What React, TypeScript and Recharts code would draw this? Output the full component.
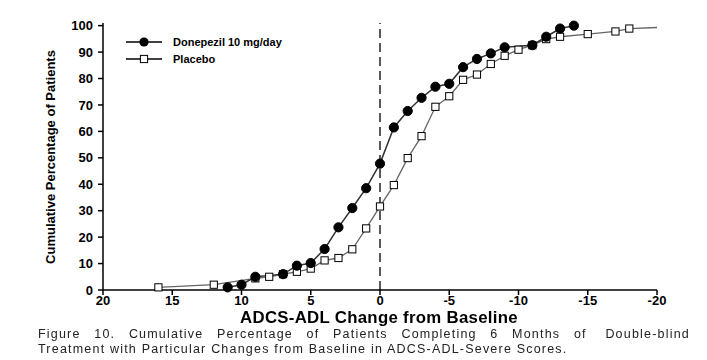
import React from 'react';
import { LineChart, Line, XAxis, YAxis, ReferenceLine } from 'recharts';

// cumulative % of patients by ADCS-ADL change (x axis runs 20 -> -20)
const donepezilX = [11, 10, 9, 7, 6, 5, 4, 3, 2, 1, 0, -1, -2, -3, -4, -5, -6, -7, -8, -9, -11, -12, -13, -14];
const donepezilY = [1, 2, 5, 6, 9.2, 10.2, 15.5, 23.7, 31, 38.5, 47.8, 61.5, 67.7, 72.7, 76.9, 78, 84.3, 87.4, 89.5, 91.8, 92.6, 95.8, 98.9, 100];

const placeboX = [16, 12, 9, 8, 7, 6, 5, 4, 3, 2, 1, 0, -1, -2, -3, -4, -5, -6, -7, -8, -9, -10, -11, -12, -13, -15, -17, -18, -20];
const placeboY = [1, 2, 4.4, 5, 6, 6.9, 8.1, 11.2, 12.1, 15.4, 23.3, 31.6, 39.7, 49.9, 58.2, 69.3, 73.3, 79.5, 81.5, 85.5, 88.6, 90.9, 92.6, 94.9, 95.8, 96.8, 97.8, 98.9, 99.3];

const xTicks = [20, 15, 10, 5, 0, -5, -10, -15, -20];
const yTicks = [0, 10, 20, 30, 40, 50, 60, 70, 80, 90, 100];

const donepezil = donepezilX.map((x, i) => ({ x, y: donepezilY[i] }));
const placebo = placeboX.map((x, i) => ({ x, y: placeboY[i] }));

const font = '"Liberation Sans", Arial, sans-serif';
const tickStyle = { fill: '#000', fontSize: 13, fontWeight: 'bold', fontFamily: font };

const CircleDot = (props: any) => (
  <circle key={props.index} cx={props.cx} cy={props.cy} r={4.6} fill="#000" stroke="#000" />
);

const SquareDot = (props: any) => {
  // last point is only the tail of the line, no marker
  if (props.index === placebo.length - 1) return <g key={props.index} />;
  return (
    <rect key={props.index} x={props.cx - 3.6} y={props.cy - 3.6} width={7.2} height={7.2} fill="#fff" stroke="#000" strokeWidth={1} />
  );
};

const captionStyle: React.CSSProperties = {
  position: 'absolute',
  left: 38,
  width: 652,
  fontSize: 12.5,
  lineHeight: '14px',
  letterSpacing: 1.2,
  color: '#222',
  whiteSpace: 'nowrap',
};

export default function App() {
  return (
    <div style={{ position: 'fixed', left: 0, top: 0, width: 707, height: 360, background: '#fff', fontFamily: font }}>
      <LineChart width={707} height={330} margin={{ top: 23, right: 50, left: 57, bottom: 10 }}>
        <XAxis
          type="number"
          dataKey="x"
          domain={[-20, 20]}
          reversed
          ticks={xTicks}
          tickFormatter={(v) => (v < 0 ? '-' + Math.abs(v) : String(v))}
          tick={tickStyle}
          tickSize={5}
          tickMargin={1}
          height={30}
          stroke="#000"
          strokeWidth={1.5}
          allowDuplicatedCategory={false}
        />
        <YAxis
          type="number"
          domain={[0, 100]}
          ticks={yTicks}
          tick={tickStyle}
          tickSize={5}
          tickMargin={5}
          width={46}
          stroke="#000"
          strokeWidth={1.5}
        />
        <ReferenceLine x={0} stroke="#000" strokeWidth={1.3} strokeDasharray="9 5" segment={[{ x: 0, y: 0 }, { x: 0, y: 101 }]} ifOverflow="extendDomain" />
        <Line data={placebo} dataKey="y" stroke="#666" strokeWidth={1.3} dot={SquareDot} isAnimationActive={false} />
        <Line data={donepezil} dataKey="y" stroke="#333" strokeWidth={1.5} dot={CircleDot} isAnimationActive={false} />
      </LineChart>

      <svg style={{ position: 'absolute', left: 120, top: 32 }} width={50} height={36}>
        <line x1={6} y1={10} x2={42} y2={10} stroke="#000" strokeWidth={1.3} />
        <circle cx={24} cy={10} r={4.6} fill="#000" />
        <line x1={6} y1={27} x2={42} y2={27} stroke="#000" strokeWidth={1.3} />
        <rect x={20.4} y={23.4} width={7.2} height={7.2} fill="#fff" stroke="#000" />
      </svg>
      <div style={{ position: 'absolute', left: 173, top: 35, fontSize: 11, fontWeight: 'bold', lineHeight: '14px' }}>Donepezil 10 mg/day</div>
      <div style={{ position: 'absolute', left: 173, top: 52, fontSize: 11, fontWeight: 'bold', lineHeight: '14px' }}>Placebo</div>

      <div
        style={{
          position: 'absolute',
          left: 50,
          top: 157,
          transform: 'translate(-50%, -50%) rotate(-90deg)',
          whiteSpace: 'nowrap',
          fontSize: 13,
          fontWeight: 'bold',
        }}
      >
        Cumulative Percentage of Patients
      </div>

      <div style={{ position: 'absolute', left: 0, width: 758, top: 309.5, textAlign: 'center', fontSize: 16.8, fontWeight: 'bold', lineHeight: '15px', letterSpacing: 0.3 }}>
        ADCS-ADL Change from Baseline
      </div>

      <div style={{ ...captionStyle, top: 327, display: 'flex', justifyContent: 'space-between' }}>
        {'Figure 10. Cumulative Percentage of Patients Completing 6 Months of Double-blind'.split(' ').map((w, i) => (
          <span key={i} style={i === 10 ? { marginLeft: 5 } : undefined}>{w}</span>
        ))}
      </div>
      <div style={{ ...captionStyle, top: 341.5 }}>
        Treatment with Particular Changes from Baseline in ADCS-ADL-Severe Scores.
      </div>
    </div>
  );
}
